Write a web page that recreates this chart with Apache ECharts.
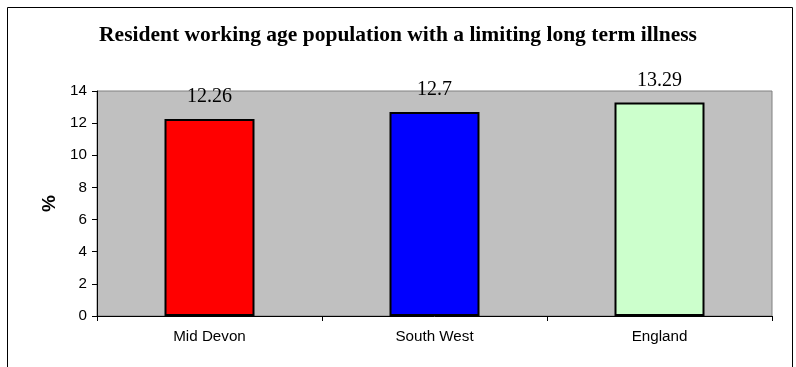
<!DOCTYPE html>
<html>
<head>
<meta charset="utf-8">
<script src="https://cdn.jsdelivr.net/npm/echarts@6/dist/echarts.min.js"></script>
<style>
  html, body { margin: 0; padding: 0; background: #fff; }
  #chart { width: 796px; height: 367px; }
</style>
</head>
<body>
<div id="chart"></div>
<script>
// Share of the resident working-age population with a limiting long term illness (%)
const areas = ['Mid Devon', 'South West', 'England'];
const percentages = [12.26, 12.7, 13.29];
const barColors = ['#FF0000', '#0000FF', '#CCFFCC'];
const yTicks = { min: 0, max: 14, step: 2 };

const chart = echarts.init(document.getElementById('chart'), null, { renderer: 'canvas' });

chart.setOption({
  backgroundColor: '#ffffff',
  animation: false,
  title: {
    text: 'Resident working age population with a limiting long term illness',
    left: 'center',
    top: 19,
    textStyle: {
      fontFamily: '"Liberation Serif", "Times New Roman", serif',
      fontSize: 21.5,
      fontWeight: 'bold',
      color: '#000'
    }
  },
  graphic: [{
    type: 'rect',
    shape: { x: 7.5, y: 7.5, width: 785, height: 380 },
    style: { fill: 'none', stroke: '#000', lineWidth: 1 },
    silent: true,
    z: -1
  }],
  grid: {
    left: 97,
    top: 91,
    right: 24,
    bottom: 51,
    show: true,
    backgroundColor: '#C0C0C0',
    borderColor: '#808080',
    borderWidth: 1
  },
  xAxis: {
    type: 'category',
    data: areas,
    axisLine: { lineStyle: { color: '#000', width: 1 } },
    axisTick: { show: true, length: 5, alignWithLabel: false, lineStyle: { color: '#000' } },
    axisLabel: {
      margin: 13,
      fontFamily: '"Liberation Sans", Arial, sans-serif',
      fontSize: 15.2,
      color: '#000'
    },
    splitLine: { show: false }
  },
  yAxis: {
    type: 'value',
    min: yTicks.min,
    max: yTicks.max,
    interval: yTicks.step,
    name: '%',
    nameLocation: 'middle',
    nameRotate: 90,
    nameGap: 38,
    nameTextStyle: {
      fontFamily: '"Liberation Sans", Arial, sans-serif',
      fontSize: 19,
      fontWeight: 'bold',
      color: '#000'
    },
    axisLine: { show: true, lineStyle: { color: '#000', width: 1 } },
    axisTick: { show: true, length: 5, lineStyle: { color: '#000' } },
    axisLabel: {
      margin: 10,
      fontFamily: '"Liberation Sans", Arial, sans-serif',
      fontSize: 15.2,
      color: '#000'
    },
    splitLine: { show: false }
  },
  series: [{
    type: 'bar',
    barWidth: '40%',
    data: percentages.map((v, i) => ({
      value: v,
      itemStyle: { color: barColors[i] }
    })),
    itemStyle: { borderColor: '#000', borderWidth: 2 },
    label: {
      show: true,
      position: 'top',
      distance: 12,
      fontFamily: '"Liberation Serif", "Times New Roman", serif',
      fontSize: 20,
      color: '#000'
    }
  }]
});
</script>
</body>
</html>
